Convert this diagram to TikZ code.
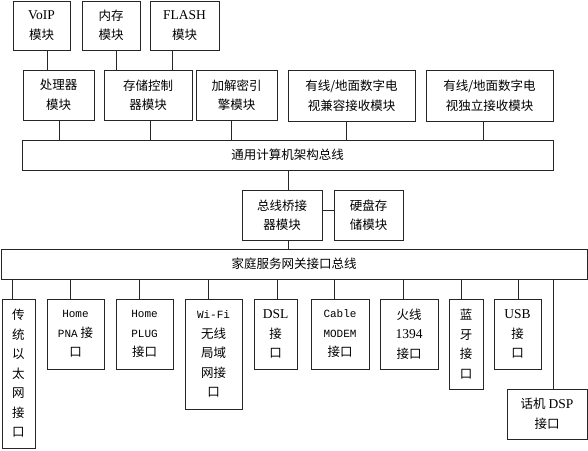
\documentclass[tikz,border=0pt]{standalone}
\usepackage{fontspec}
\setmainfont{Liberation Serif}
\setmonofont{Liberation Mono}
\newfontfamily\cjk{Noto Sans CJK SC}
\usetikzlibrary{positioning}
\newcommand{\serif}[1]{{\rmfamily\fontsize{13.5}{19.5}\selectfont #1}}
\newcommand{\mono}[1]{{\ttfamily\fontsize{11}{19.5}\selectfont #1}}
\tikzset{
  box/.style={draw=black!85, line width=0.8pt, align=center, inner sep=0pt, outer sep=0pt,
    font=\cjk\fontsize{12.5}{19.5}\selectfont},
  link/.style={draw=black!85, line width=0.8pt}
}
\begin{document}
\begin{tikzpicture}[x=1pt, y=-1pt]
\useasboundingbox (0,0) rectangle (588,450);
\node[box, minimum width=57pt, minimum height=49pt] (voip) at (41.5,25.5) {\serif{VoIP}\\模块};
\node[box, minimum width=58pt, minimum height=49pt] (neicun) at (111,25.5) {内存\\模块};
\node[box, minimum width=69pt, minimum height=49pt] (flash) at (184.5,25.5) {\serif{FLASH}\\模块};

\node[box, minimum width=71pt, minimum height=50pt] (cpu) at (58.5,95) {处理器\\模块};
\node[box, minimum width=88pt, minimum height=50pt] (memctl) at (148,95) {存储控制\\器模块};
\node[box, minimum width=81pt, minimum height=50pt] (crypto) at (236.5,95) {加解密引\\擎模块};
\node[box, minimum width=127pt, minimum height=51pt] (tvcompat) at (351.5,95.5) {有线/地面数字电\\视兼容接收模块};
\node[box, minimum width=127pt, minimum height=51pt] (tvindep) at (489.5,95.5) {有线/地面数字电\\视独立接收模块};

\node[box, minimum width=531pt, minimum height=30pt] (bus1) at (287.5,155) {通用计算机架构总线};

\node[box, minimum width=80pt, minimum height=50pt] (bridge) at (282,215) {总线桥接\\器模块};
\node[box, minimum width=69pt, minimum height=50pt] (disk) at (368.5,215) {硬盘存\\储模块};

\node[box, minimum width=586pt, minimum height=30pt] (bus2) at (294,264) {家庭服务网关接口总线};

\node[box, minimum width=33pt, minimum height=149pt] (eth) at (18.5,373.5) {传\\统\\以\\太\\网\\接\\口};
\node[box, minimum width=57pt, minimum height=70pt] (pna) at (75.5,334) {\mono{Home}\\\mono{PNA} 接\\口};
\node[box, minimum width=57pt, minimum height=70pt] (plug) at (144.5,334) {\mono{Home}\\\mono{PLUG}\\接口};
\node[box, minimum width=57pt, minimum height=110pt] (wifi) at (213.5,354) {\mono{Wi-Fi}\\无线\\局域\\网接\\口};
\node[box, minimum width=43pt, minimum height=70pt] (dsl) at (275.5,334) {\serif{DSL}\\接\\口};
\node[box, minimum width=58pt, minimum height=70pt] (cable) at (340,334) {\mono{Cable}\\\mono{MODEM}\\接口};
\node[box, minimum width=58pt, minimum height=70pt] (fire) at (409,334) {火线\\\serif{1394}\\接口};
\node[box, minimum width=34pt, minimum height=90pt] (bt) at (466,344) {蓝\\牙\\接\\口};
\node[box, minimum width=47pt, minimum height=70pt] (usb) at (517.5,334) {\serif{USB}\\接\\口};
\node[box, minimum width=80pt, minimum height=50pt] (phone) at (547,414) {话机 \serif{DSP}\\接口};

\draw[link] ([xshift=5.5pt]voip.south) -- ([xshift=5.5pt]voip.south |- cpu.north);
\draw[link] ([xshift=5pt]neicun.south) -- ([xshift=5pt]neicun.south |- memctl.north);
\draw[link] ([xshift=-12.5pt]flash.south) -- ([xshift=-12.5pt]flash.south |- memctl.north);
\foreach \n/\dx in {cpu/0.5, memctl/2, crypto/-5.5, tvcompat/-5.5, tvindep/-6.5}
  \draw[link] ([xshift=\dx pt]\n.south) -- ([xshift=\dx pt]\n.south |- bus1.north);
\draw[link] ([xshift=6pt]bridge.north) -- ([xshift=6pt]bridge.north |- bus1.south);
\draw[link] ([xshift=6pt]bridge.south) -- ([xshift=6pt]bridge.south |- bus2.north);
\draw[link] ([yshift=5pt]bridge.east) -- ([yshift=5pt]bridge.east -| disk.west);
\foreach \n/\dx in {eth/-6.5, pna/-5.5, plug/-5.5, wifi/-5.5, dsl/1.5, cable/-6, fire/-6, bt/-5, usb/0.5, phone/6}
  \draw[link] ([xshift=\dx pt]\n.north) -- ([xshift=\dx pt]\n.north |- bus2.south);
\end{tikzpicture}
\end{document}
